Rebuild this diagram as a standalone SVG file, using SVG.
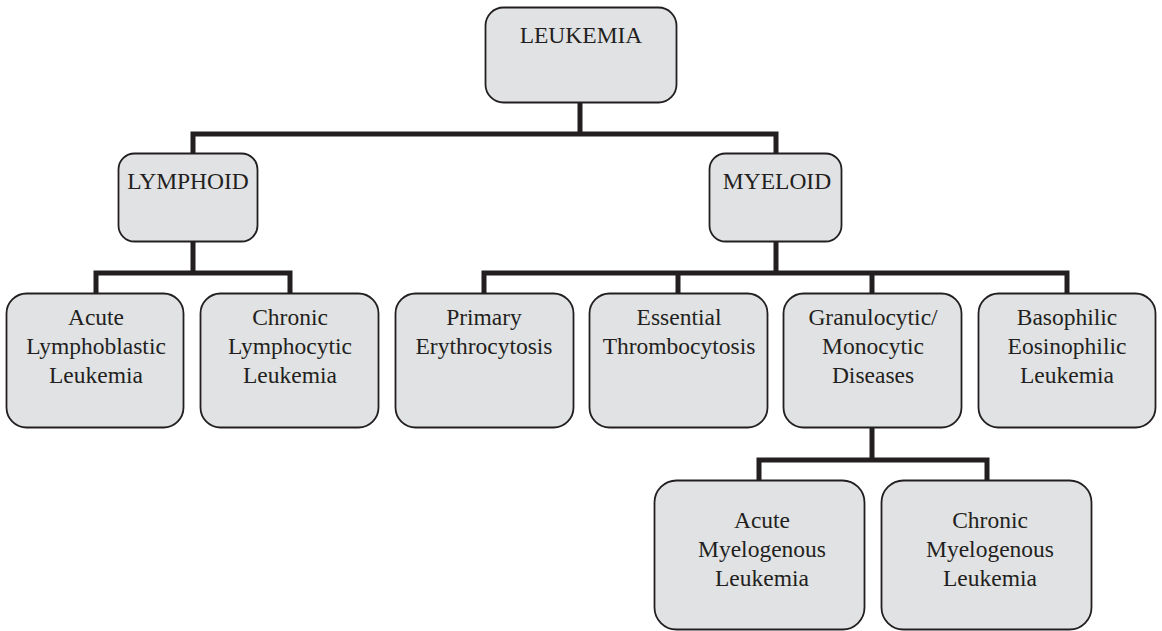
<svg xmlns="http://www.w3.org/2000/svg" width="1162" height="631" viewBox="0 0 1162 631">
<style>
.box{fill:#e1e2e4;stroke:#231f20;stroke-width:1.8}
.t{font-family:"Liberation Serif","Times New Roman",serif;font-size:23.5px;fill:#231f20;text-anchor:middle}
.c{fill:none;stroke:#231f20;stroke-width:5;stroke-linecap:butt;stroke-linejoin:miter}
</style>
<rect width="1162" height="631" fill="#ffffff"/>
<g id="connectors">
<path class="c" d="M580 102V134M193 153V134H776V153"/>
<path class="c" d="M193 241V273M96 293V273H290V293"/>
<path class="c" d="M776 241V273M484 293V273H1067V293M678 273V293M872 273V293"/>
<path class="c" d="M872 427V460M759 480V460H987V480"/>
</g>
<g id="leukemia"><rect class="box" x="485.5" y="7.5" width="191" height="95" rx="18"/><text class="t" x="581" y="43">LEUKEMIA</text></g>
<g id="lymphoid"><rect class="box" x="118.5" y="153.5" width="139" height="88" rx="16"/><text class="t" x="188" y="189">LYMPHOID</text></g>
<g id="myeloid"><rect class="box" x="709.5" y="153.5" width="132" height="88" rx="16"/><text class="t" x="777" y="189">MYELOID</text></g>
<g id="all"><rect class="box" x="6.5" y="293.5" width="177" height="134" rx="20"/><text class="t" x="96" y="325">Acute<tspan x="96" y="354">Lymphoblastic</tspan><tspan x="96" y="383">Leukemia</tspan></text></g>
<g id="cll"><rect class="box" x="200.5" y="293.5" width="178" height="134" rx="20"/><text class="t" x="290" y="325">Chronic<tspan x="290" y="354">Lymphocytic</tspan><tspan x="290" y="383">Leukemia</tspan></text></g>
<g id="primary"><rect class="box" x="395.5" y="293.5" width="178" height="134" rx="20"/><text class="t" x="484" y="325">Primary<tspan x="484" y="354">Erythrocytosis</tspan></text></g>
<g id="essential"><rect class="box" x="589.5" y="293.5" width="178" height="134" rx="20"/><text class="t" x="679" y="325">Essential<tspan x="679" y="354">Thrombocytosis</tspan></text></g>
<g id="granulocytic"><rect class="box" x="783.5" y="293.5" width="178" height="134" rx="20"/><text class="t" x="873" y="325">Granulocytic/<tspan x="873" y="354">Monocytic</tspan><tspan x="873" y="383">Diseases</tspan></text></g>
<g id="basophilic"><rect class="box" x="978.5" y="293.5" width="177" height="134" rx="20"/><text class="t" x="1067" y="325">Basophilic<tspan x="1067" y="354">Eosinophilic</tspan><tspan x="1067" y="383">Leukemia</tspan></text></g>
<g id="aml"><rect class="box" x="654.5" y="480.5" width="210" height="149" rx="22"/><text class="t" x="762" y="528">Acute<tspan x="762" y="557">Myelogenous</tspan><tspan x="762" y="586">Leukemia</tspan></text></g>
<g id="cml"><rect class="box" x="881.5" y="480.5" width="210" height="149" rx="22"/><text class="t" x="990" y="528">Chronic<tspan x="990" y="557">Myelogenous</tspan><tspan x="990" y="586">Leukemia</tspan></text></g>
</svg>
